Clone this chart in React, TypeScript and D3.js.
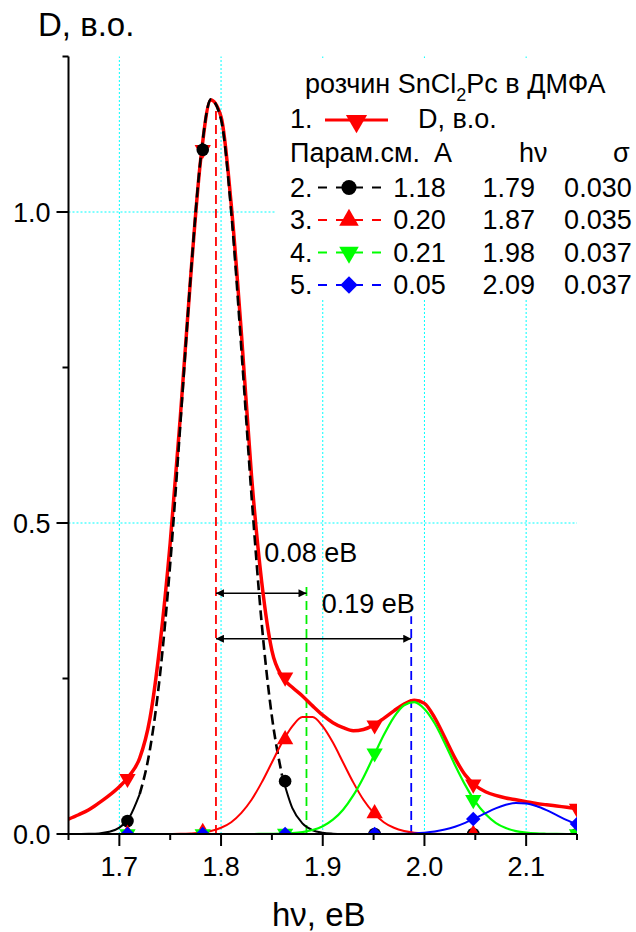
import React from "react";
import * as d3 from "d3";

// ---- data ----
const energy = [
  1.65, 1.66, 1.67, 1.68, 1.69, 1.7, 1.71, 1.72, 1.73, 1.74, 1.75, 1.76, 1.77, 1.78, 1.79, 1.8, 1.81,
  1.82, 1.83, 1.84, 1.85, 1.86, 1.87, 1.88, 1.89, 1.9, 1.91, 1.92, 1.93, 1.94, 1.95, 1.96, 1.97,
  1.98, 1.99, 2.0, 2.01, 2.02, 2.03, 2.04, 2.05, 2.06, 2.07, 2.08, 2.09, 2.1, 2.11, 2.12, 2.13,
  2.14, 2.15,
];
const absorbance = [
  0.024, 0.031, 0.039, 0.05, 0.062, 0.076, 0.094, 0.122, 0.185, 0.305, 0.468, 0.672, 0.893, 1.085,
  1.18, 1.153, 1.012, 0.805, 0.575, 0.405, 0.295, 0.253, 0.236, 0.222, 0.206, 0.191, 0.179, 0.171,
  0.166, 0.168, 0.175, 0.186, 0.198, 0.209, 0.215, 0.21, 0.187, 0.155, 0.122, 0.095, 0.078, 0.068,
  0.062, 0.058, 0.055, 0.052, 0.049, 0.047, 0.045, 0.043, 0.041,
];
const band2 = [
  0, 0.0001, 0.0003, 0.001, 0.0035, 0.0102, 0.027, 0.064, 0.135, 0.256, 0.434, 0.659, 0.894, 1.087,
  1.181, 1.149, 1.0, 0.779, 0.543, 0.338, 0.189, 0.094, 0.042, 0.017, 0.006, 0.002, 0.0006, 0.0001,
  0, 0, 0, 0, 0, 0, 0, 0, 0, 0, 0, 0, 0, 0, 0, 0, 0, 0, 0, 0, 0, 0, 0,
];
const band3 = [
  0, 0, 0, 0, 0, 0, 0, 0, 0, 0, 0.0001, 0.0003, 0.0009, 0.0021, 0.0048, 0.01, 0.019, 0.034, 0.055,
  0.083, 0.115, 0.147, 0.173, 0.188, 0.188, 0.173, 0.147, 0.115, 0.083, 0.055, 0.034, 0.019, 0.01,
  0.0048, 0.0021, 0.0009, 0.0003, 0.0001, 0, 0, 0, 0, 0, 0, 0, 0, 0, 0, 0, 0, 0,
];
const band4 = [
  0, 0, 0, 0, 0, 0, 0, 0, 0, 0, 0, 0, 0, 0, 0, 0, 0, 0, 0, 0.0001, 0.0002, 0.0005, 0.0013, 0.003,
  0.0064, 0.0125, 0.023, 0.039, 0.062, 0.091, 0.125, 0.159, 0.188, 0.207, 0.212, 0.201, 0.178,
  0.146, 0.111, 0.079, 0.052, 0.032, 0.018, 0.0096, 0.0047, 0.0022, 0.0009, 0.0004, 0.0001, 0, 0,
];
const band5 = [
  0, 0, 0, 0, 0, 0, 0, 0, 0, 0, 0, 0, 0, 0, 0, 0, 0, 0, 0, 0, 0, 0, 0, 0, 0, 0, 0, 0, 0, 0, 0,
  0.0001, 0.0002, 0.0005, 0.001, 0.0021, 0.004, 0.0071, 0.0117, 0.0179, 0.0254, 0.0336, 0.0412,
  0.047, 0.0498, 0.0491, 0.045, 0.0383, 0.0303, 0.0223, 0.0153,
];

const markerEnergy = [1.708, 1.782, 1.863, 1.951, 2.048, 2.15];
const markerD = [0.089, 1.1, 0.252, 0.175, 0.08, 0.041];
const marker2 = [0.021, 1.1, 0.085, 0, 0, 0];
const marker3 = [0, 0.003, 0.152, 0.033, 0, 0];
const marker4 = [0, 0, 0.001, 0.13, 0.055, 0];
const marker5 = [0, 0, 0, 0, 0.024, 0.016];

const xMajor = [1.7, 1.8, 1.9, 2.0, 2.1];
const xMinor = [1.65, 1.75, 1.85, 1.95, 2.05, 2.15];
const yMajor = [0, 0.5, 1.0];
const yMinor = [0.25, 0.75, 1.25];

const peakCenters = [1.795, 1.884, 1.987];
const peakTops = [1.17, 0.404, 0.35];
const peakColors = ["#ff0000", "#00ee00", "#0000ff"];

const splitFrom = 1.795;
const splitTo = [1.884, 1.987];
const splitLevel = [0.387, 0.314];
const splitLabels = ["0.08 eB", "0.19 eB"];
const splitLabelPos = [
  [1.8425, 0.438],
  [1.899, 0.355],
];

const legendNums = ["2.", "3.", "4.", "5."];
const legendA = ["1.18", "0.20", "0.21", "0.05"];
const legendHv = ["1.79", "1.87", "1.98", "2.09"];
const legendSigma = ["0.030", "0.035", "0.037", "0.037"];

const FONT = "'Liberation Sans', Arial, Helvetica, sans-serif";
const FS = 27;

export default function App() {
  const W = 636;
  const H = 932;
  const x = d3.scaleLinear().domain([1.65, 2.15]).range([68.5, 577]);
  const y = d3.scaleLinear().domain([0, 1.25]).range([834, 56.5]);
  const [x0, x1] = x.range();
  const [y0, y1] = y.range();

  const path = (vals: number[], lo = -Infinity, hi = Infinity) => {
    const pts: [number, number][] = [];
    energy.forEach((e, i) => {
      if (e >= lo - 1e-9 && e <= hi + 1e-9) pts.push([x(e), y(vals[i])]);
    });
    return d3.line().curve(d3.curveMonotoneX)(pts) || "";
  };

  const tri = d3.symbol().type(d3.symbolTriangle).size(115)() || "";
  const circ = d3.symbol().type(d3.symbolCircle).size(125)() || "";
  const sq = d3.symbol().type(d3.symbolSquare).size(105)() || "";

  const markers = (vals: number[], shape: string, color: string, rot: number) =>
    markerEnergy.map((e, i) => (
      <path
        key={i}
        d={shape}
        fill={color}
        transform={`translate(${x(e)},${y(vals[i])}) rotate(${rot})`}
      />
    ));

  const legendRowY = [196.5, 229, 261.5, 294];
  const legendColors = ["#000000", "#ff0000", "#00ff00", "#0000ff"];
  const legendShapes = [circ, tri, tri, sq];
  const legendRot = [0, 0, 180, 45];

  return (
    <svg
      width={W}
      height={H}
      style={{ position: "absolute", left: 0, top: 0, background: "#fff" }}
      fontFamily={FONT}
    >
      <defs>
        <clipPath id="plot">
          <rect x={x0} y={y1} width={x1 - x0} height={y0 - y1} />
        </clipPath>
        <marker id="ah" viewBox="0 0 10 10" refX="10" refY="5" markerWidth="13" markerHeight="8" markerUnits="userSpaceOnUse" orient="auto-start-reverse">
          <path d="M0,0 L10,5 L0,10 z" fill="#000" />
        </marker>
      </defs>
      <rect width={W} height={H} fill="#fff" />

      {/* grid */}
      {xMajor.map((v) => (
        <line key={"gx" + v} x1={x(v)} x2={x(v)} y1={y0} y2={y1} stroke="#00ffff" strokeWidth={1} strokeDasharray="2,2" />
      ))}
      {yMajor.filter((v) => v > 0).map((v) => (
        <line key={"gy" + v} x1={x0} x2={x1} y1={y(v)} y2={y(v)} stroke="#00ffff" strokeWidth={1} strokeDasharray="2,2" />
      ))}

      {/* legend background */}
      <rect x={276} y={60} width={W - 276} height={238} fill="#fff" />

      {/* peak position lines */}
      {peakCenters.map((c, i) => (
        <line key={"pc" + i} x1={x(c)} x2={x(c)} y1={y(0)} y2={y(peakTops[i])} stroke={peakColors[i]} strokeWidth={1.8} strokeDasharray="9,5" />
      ))}

      {/* splitting arrows */}
      {splitTo.map((t, i) => (
        <line key={"ar" + i} x1={x(splitFrom)} x2={x(t)} y1={y(splitLevel[i])} y2={y(splitLevel[i])} stroke="#000" strokeWidth={1.5} markerStart="url(#ah)" markerEnd="url(#ah)" />
      ))}
      {splitLabels.map((s, i) => (
        <text key={"sl" + i} x={x(splitLabelPos[i][0])} y={y(splitLabelPos[i][1])} fontSize={FS}>
          {s}
        </text>
      ))}

      <g clipPath="url(#plot)">
        {/* 1. measured spectrum */}
        <path d={path(absorbance)} fill="none" stroke="#ff0000" strokeWidth={3.5} />
        {markers(markerD, tri, "#ff0000", 180)}
        {/* 2. */}
        <path d={path(band2, 1.65, 1.72)} fill="none" stroke="#000" strokeWidth={2} />
        <path d={path(band2, 1.72, 1.86)} fill="none" stroke="#000" strokeWidth={2.6} strokeDasharray="10,5" />
        <path d={path(band2, 1.86, 2.15)} fill="none" stroke="#000" strokeWidth={2} />
        {markers(marker2, circ, "#000", 0)}
        {/* 3. */}
        <path d={path(band3)} fill="none" stroke="#ff0000" strokeWidth={2} />
        {markers(marker3, tri, "#ff0000", 0)}
        {/* 4. */}
        <path d={path(band4)} fill="none" stroke="#00ff00" strokeWidth={2.2} />
        {markers(marker4, tri, "#00ff00", 180)}
        {/* 5. */}
        <path d={path(band5)} fill="none" stroke="#0000ff" strokeWidth={2} />
        {markers(marker5, sq, "#0000ff", 45)}
      </g>

      {/* axes */}
      <line x1={x0} x2={x0} y1={y0 + 1} y2={y1} stroke="#000" strokeWidth={2} />
      <line x1={x0 - 1} x2={x1} y1={y0} y2={y0} stroke="#000" strokeWidth={2} />
      {xMajor.map((v) => (
        <g key={"xt" + v}>
          <line x1={x(v)} x2={x(v)} y1={y0} y2={y0 + 12} stroke="#000" strokeWidth={2} />
          <text x={x(v)} y={y0 + 42} fontSize={FS} textAnchor="middle">
            {v.toFixed(1)}
          </text>
        </g>
      ))}
      {xMinor.map((v) => (
        <line key={"xm" + v} x1={x(v)} x2={x(v)} y1={y0} y2={y0 + 6} stroke="#000" strokeWidth={2} />
      ))}
      {yMajor.map((v) => (
        <g key={"yt" + v}>
          <line x1={x0} x2={x0 - 12} y1={y(v)} y2={y(v)} stroke="#000" strokeWidth={2} />
          <text x={x0 - 18} y={y(v) + 9.5} fontSize={FS} textAnchor="end">
            {v.toFixed(1)}
          </text>
        </g>
      ))}
      {yMinor.map((v) => (
        <line key={"ym" + v} x1={x0} x2={x0 - 6} y1={y(v)} y2={y(v)} stroke="#000" strokeWidth={2} />
      ))}
      <text x={38} y={36} fontSize={33}>
        D, в.о.
      </text>
      <text x={(x0 + x1) / 2 - 4} y={926} fontSize={33} textAnchor="middle">
        hν, eB
      </text>

      {/* legend */}
      <text x={305} y={93} fontSize={FS}>
        розчин SnCl
        <tspan fontSize={18} dy={8}>
          2
        </tspan>
        <tspan dy={-8}>Pc в ДМФА</tspan>
      </text>
      <text x={290} y={128} fontSize={FS}>
        1.
      </text>
      <line x1={325} x2={388} y1={120} y2={120} stroke="#ff0000" strokeWidth={3} />
      <path d={tri} fill="#ff0000" transform="translate(356.5,121) rotate(180) scale(1.3)" />
      <text x={418} y={128} fontSize={FS}>
        D, в.о.
      </text>
      <text x={290} y={162} fontSize={FS}>
        Парам.см.
      </text>
      <text x={434} y={162} fontSize={FS}>
        A
      </text>
      <text x={519} y={162} fontSize={FS}>
        hν
      </text>
      <text x={613} y={162} fontSize={FS}>
        σ
      </text>
      {legendNums.map((n, i) => {
        const ly = legendRowY[i];
        return (
          <g key={"lg" + i}>
            <text x={290} y={ly} fontSize={FS}>
              {n}
            </text>
            <line x1={318} x2={382} y1={ly - 9} y2={ly - 9} stroke={legendColors[i]} strokeWidth={2} strokeDasharray="9,9" />
            <path d={legendShapes[i]} fill={legendColors[i]} transform={`translate(349,${ly - 9}) rotate(${legendRot[i]}) scale(1.2)`} />
            <text x={445.7} y={ly} fontSize={FS} textAnchor="end">
              {legendA[i]}
            </text>
            <text x={535} y={ly} fontSize={FS} textAnchor="end">
              {legendHv[i]}
            </text>
            <text x={631.7} y={ly} fontSize={FS} textAnchor="end">
              {legendSigma[i]}
            </text>
          </g>
        );
      })}
    </svg>
  );
}
